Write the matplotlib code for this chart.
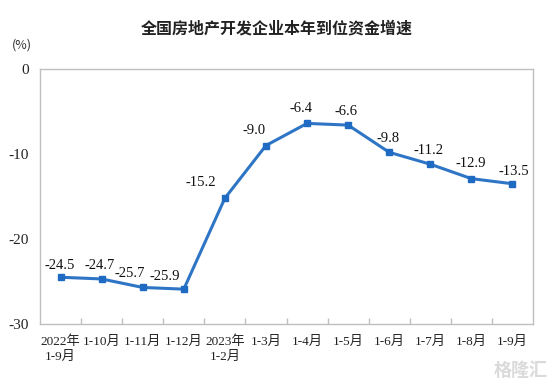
import matplotlib
matplotlib.use("Agg")
import matplotlib.pyplot as plt

categories = ["2022年\n1-9月", "1-10月", "1-11月", "1-12月", "2023年\n1-2月", "1-3月",
              "1-4月", "1-5月", "1-6月", "1-7月", "1-8月", "1-9月"]
values = [-24.5, -24.7, -25.7, -25.9, -15.2, -9.0, -6.4, -6.6, -9.8, -11.2, -12.9, -13.5]
yticks = [0, -10, -20, -30]

fig = plt.figure(figsize=(5.54, 3.84), dpi=100)
W, H = 554, 384
ax = fig.add_axes([40 / W, 1 - 324 / H, (533 - 40) / W, (324 - 69) / H])

x = list(range(len(values)))
ax.plot(x, values, color="#2E75C6", lw=2.2, marker="s", markersize=4.5,
        markerfacecolor="#1F6BC4", markeredgecolor="#1F6BC4", zorder=3)

ax.set_xlim(-0.5, len(values) - 0.5)
ax.set_ylim(-30, 0)
ax.set_yticks(yticks)
ax.set_yticklabels([str(v) for v in yticks], fontfamily=["Liberation Serif"], fontsize=11,
                   color="#222222")
ax.tick_params(axis="y", length=0, pad=8)

ax.set_xticks([i + 0.5 for i in range(len(values) - 1)])
ax.set_xticklabels([])
ax.tick_params(axis="x", direction="in", length=4, color="#BFBFBF", width=1)
for i, c in enumerate(categories):
    ax.text(i, -31.4, c, ha="center", va="top", fontsize=9.5,
            family=["Liberation Serif", "Noto Sans CJK SC"], color="#222222",
            linespacing=1.25)

for s in ax.spines.values():
    s.set_color("#BFBFBF")
    s.set_linewidth(1)

# label offsets in pixels (dx, dy) relative to each point
label_dx = [-1, -2, -13, -19, -24, -12, -6, -2, -1, -2, -1, 1]
label_dy = [12, 13, 14, 13, 16, 15, 15, 14, 14, 14, 15, 12]
for i, v in enumerate(values):
    ax.annotate(f"{v:.1f}", (i, v), xytext=(label_dx[i] * 0.72, label_dy[i] * 0.72),
                textcoords="offset points", ha="center", va="center", fontsize=10.5,
                family=["Liberation Serif"], color="#111111")

fig.text(12 / W, 1 - 45 / H, "(%)", fontsize=9, family=["Noto Sans CJK SC"],
         color="#333333", va="center")
fig.text(0.5, 1 - 28 / H, "全国房地产开发企业本年到位资金增速", ha="center", va="center",
         fontsize=11.5, family=["Noto Sans CJK SC"], fontweight="bold", color="#222222")
fig.text(548 / W, 1 - 370 / H, "格隆汇", ha="right", va="center", fontsize=13,
         family=["Noto Sans CJK SC"], color="#DADADA", fontweight="bold")

fig.savefig("out.png", dpi=100)
